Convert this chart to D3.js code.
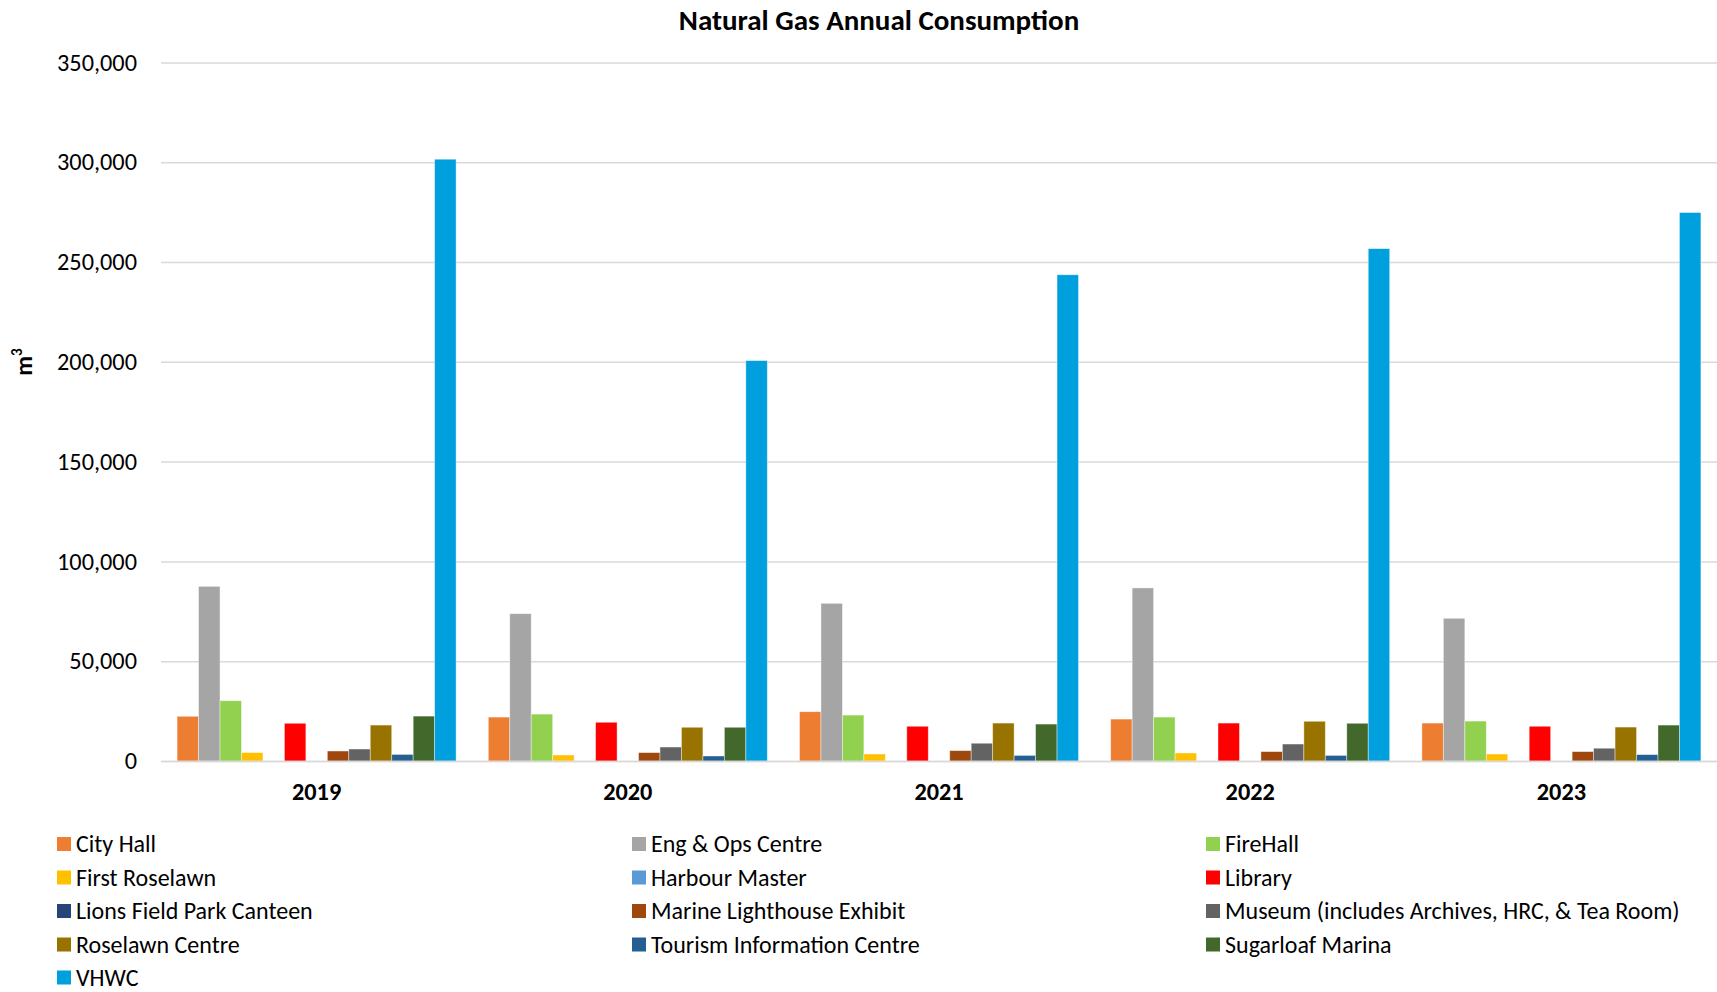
<!DOCTYPE html>
<html>
<head>
<meta charset="utf-8">
<script src="https://cdn.jsdelivr.net/npm/d3@7"></script>
<style>
  html, body { margin: 0; padding: 0; background: #fff; }
  svg { display: block; }
  text { font-family: Carlito, Calibri, Lato, "Open Sans", sans-serif; fill: #000; }
</style>
</head>
<body>
<svg id="chart" width="1717" height="992"></svg>
<script>
const years = ["2019", "2020", "2021", "2022", "2023"];
const seriesNames = [
  "City Hall", "Eng & Ops Centre", "FireHall", "First Roselawn", "Harbour Master",
  "Library", "Lions Field Park Canteen", "Marine Lighthouse Exhibit",
  "Museum (includes Archives, HRC, & Tea Room)", "Roselawn Centre",
  "Tourism Information Centre", "Sugarloaf Marina", "VHWC"
];
const seriesColors = [
  "#ED7D31", "#A5A5A5", "#92D050", "#FFC000", "#5B9BD5",
  "#FF0000", "#264478", "#9E480E", "#636363", "#997300",
  "#255E91", "#43682B", "#009FDD"
];
// values per series, by year 2019..2023 (m3)
const cityHall      = [22400, 22000, 24700, 21000, 19000];
const engOps        = [87500, 73800, 79000, 86700, 71500];
const fireHall      = [30200, 23500, 23000, 22000, 20000];
const firstRoselawn = [4200, 3000, 3500, 4000, 3500];
const harbourMaster = [0, 0, 0, 0, 0];
const library       = [18900, 19400, 17400, 19000, 17400];
const lionsField    = [0, 0, 0, 0, 0];
const marine        = [5000, 4200, 5200, 4700, 4700];
const museum        = [6000, 7000, 8900, 8500, 6400];
const roselawn      = [18000, 16900, 19000, 19900, 17000];
const tourism       = [3300, 2500, 2800, 2800, 3200];
const sugarloaf     = [22500, 16900, 18500, 18900, 18000];
const vhwc          = [301500, 200600, 243600, 256700, 274800];
const seriesValues = [cityHall, engOps, fireHall, firstRoselawn, harbourMaster,
  library, lionsField, marine, museum, roselawn, tourism, sugarloaf, vhwc];
const yTicks = [0, 50000, 100000, 150000, 200000, 250000, 300000, 350000];

const svg = d3.select("#chart");
const plotLeft = 161, plotRight = 1717, plotTop = 62.4, plotBottom = 761;
const FS = 24.3;

const y = d3.scaleLinear().domain([0, 350000]).range([plotBottom, plotTop]);
const x0 = d3.scaleBand().domain(years).range([plotLeft, plotRight]).padding(0);
const bw = x0.bandwidth();
const w = bw / 14.5;
const x1 = d3.scaleBand().domain(seriesNames).range([0.75 * w, bw - 0.75 * w]).padding(0);

// title
svg.append("text").attr("x", 879).attr("y", 30).attr("text-anchor", "middle")
  .attr("font-size", 29).attr("font-weight", "bold").text("Natural Gas Annual Consumption");

// gridlines
const yAxis = d3.axisLeft(y).tickValues(yTicks).tickSize(-(plotRight - plotLeft)).tickFormat(d3.format(","));
const gy = svg.append("g").attr("transform", `translate(${plotLeft},0)`).call(yAxis);
gy.select(".domain").remove();
gy.selectAll(".tick line").attr("stroke", "#d9d9d9").attr("stroke-width", 1.5);
gy.selectAll(".tick text").attr("x", -24).attr("font-size", FS).attr("fill", "#000")
  .style("font-family", "Carlito, Calibri, Lato, sans-serif");

// bars
const groups = svg.append("g").selectAll("g").data(years).join("g")
  .attr("transform", d => `translate(${x0(d)},0)`);
groups.selectAll("rect")
  .data((yr, yi) => seriesNames.map((s, si) => ({ s, si, v: seriesValues[si][yi] })))
  .join("rect")
  .attr("x", d => x1(d.s))
  .attr("width", x1.bandwidth())
  .attr("y", d => y(d.v))
  .attr("height", d => y(0) - y(d.v))
  .attr("fill", d => seriesColors[d.si])
  .attr("stroke", "#ffffff").attr("stroke-opacity", 0.5).attr("stroke-width", 0.8);

// x axis
const xAxis = d3.axisBottom(x0).tickSize(0).tickPadding(0);
const gx = svg.append("g").attr("transform", `translate(0,${plotBottom})`).call(xAxis);
gx.select(".domain").attr("stroke", "#d9d9d9").attr("stroke-width", 1.5);
gx.selectAll(".tick text").attr("y", 22).attr("dy", "0.71em").attr("font-size", FS)
  .attr("font-weight", "bold").attr("fill", "#000")
  .style("font-family", "Carlito, Calibri, Lato, sans-serif");

// y axis title
const yt = svg.append("text").attr("transform", "translate(32,362) rotate(-90)")
  .attr("text-anchor", "middle").attr("font-size", FS).attr("font-weight", "bold");
yt.append("tspan").text("m");
yt.append("tspan").attr("dy", -10).attr("font-size", 15).text("3");

// legend
const colX = [57, 632, 1206];
const rowY = [844, 877.5, 911, 944.5, 977.5];
const leg = svg.append("g").selectAll("g").data(seriesNames).join("g")
  .attr("transform", (d, i) => `translate(${colX[i % 3]},${rowY[Math.floor(i / 3)]})`);
leg.append("rect").attr("x", 0).attr("y", -7).attr("width", 14).attr("height", 14)
  .attr("fill", (d, i) => seriesColors[i]);
leg.append("text").attr("x", 19).attr("y", 0).attr("dy", "0.35em").attr("font-size", 24).text(d => d);
</script>
</body>
</html>
